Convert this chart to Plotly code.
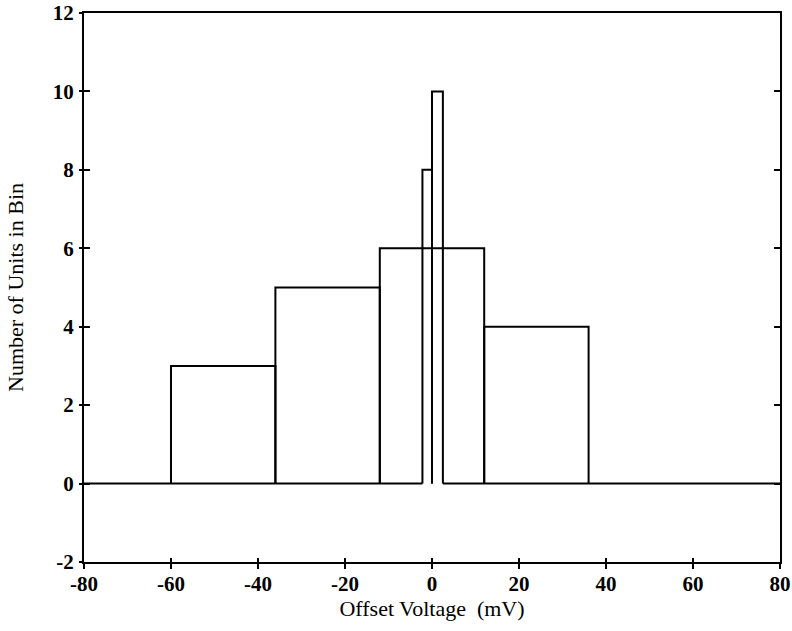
import plotly.graph_objects as go

# Histogram of offset voltages: coarse 24 mV bins plus two fine bins near zero
wide_edges = [-60, -36, -12, 12, 36]
wide_counts = [3, 5, 6, 4]
fine_edges = [-2.2, 0.0, 2.5]
fine_counts = [8, 10]

x_ticks = [-80, -60, -40, -20, 0, 20, 40, 60, 80]
x_tick_text = ["-80", "-60", "-40", "-20", "0", "20", "40", "60", "80"]
y_ticks = [-2, 0, 2, 4, 6, 8, 10, 12]
y_tick_text = ["-2", "0", "2", "4", "6", "8", "10", "12"]
x_range = [-80, 80]
y_range = [-2, 12]


def bar_outline(edges, counts):
    xs, ys = [], []
    for left, right, h in zip(edges[:-1], edges[1:], counts):
        xs += [left, left, right, right, None]
        ys += [0, h, h, 0, None]
    return xs, ys


wx, wy = bar_outline(wide_edges, wide_counts)
fx, fy = bar_outline(fine_edges, fine_counts)

# zero line, interrupted under the fine bins
base_x = [x_range[0], fine_edges[0], None, fine_edges[-1], x_range[1]]
base_y = [0, 0, None, 0, 0]

line_style = dict(color="black", width=2)
fig = go.Figure()
fig.add_trace(go.Scatter(x=base_x, y=base_y, mode="lines", line=line_style,
                         hoverinfo="skip", showlegend=False))
fig.add_trace(go.Scatter(x=wx, y=wy, mode="lines", line=line_style,
                         showlegend=False))
fig.add_trace(go.Scatter(x=fx, y=fy, mode="lines", line=line_style,
                         showlegend=False))
# carrier trace for the outer tick axes
fig.add_trace(go.Scatter(x=[None], y=[None], xaxis="x2", yaxis="y2",
                         showlegend=False, hoverinfo="skip"))

tick_font = dict(family="Liberation Serif", size=21, color="black",
                 weight="bold")
title_font = dict(family="Liberation Serif", size=22, color="black")

fig.update_layout(
    width=792, height=631,
    margin=dict(l=84, r=12, t=13, b=69),
    paper_bgcolor="white", plot_bgcolor="white",
    showlegend=False,
    xaxis=dict(
        range=x_range, tickvals=x_ticks, ticktext=x_tick_text,
        ticks="inside", ticklen=4, automargin=False,
        tickwidth=2, tickcolor="black", showline=True, linewidth=2,
        linecolor="black", mirror=True, showgrid=False, zeroline=False,
        tickfont=tick_font, ticklabelstandoff=2, ticklabeloverflow="allow",
        title=dict(text="Offset Voltage\u00a0 (mV)", font=title_font,
                   standoff=5),
    ),
    yaxis=dict(
        range=y_range, tickvals=y_ticks, ticktext=y_tick_text,
        ticks="inside", ticklen=6, automargin=False,
        tickwidth=2, tickcolor="black", showline=True, linewidth=2,
        linecolor="black", mirror="ticks", showgrid=False, zeroline=False,
        tickfont=tick_font, ticklabelstandoff=4, ticklabeloverflow="allow",
        title=dict(text="Number of Units in Bin", font=title_font,
                   standoff=23),
    ),
    xaxis2=dict(
        range=x_range, tickvals=x_ticks, ticks="outside", ticklen=6,
        tickwidth=2, tickcolor="black", showticklabels=False,
        showline=False, showgrid=False, zeroline=False, automargin=False,
        overlaying="x", anchor="y2", side="bottom",
    ),
    yaxis2=dict(
        range=y_range, tickvals=y_ticks, ticks="outside", ticklen=4,
        tickwidth=2, tickcolor="black", showticklabels=False,
        showline=False, showgrid=False, zeroline=False, automargin=False,
        overlaying="y", anchor="x2", side="left",
    ),
)

fig.write_html("out.html")
